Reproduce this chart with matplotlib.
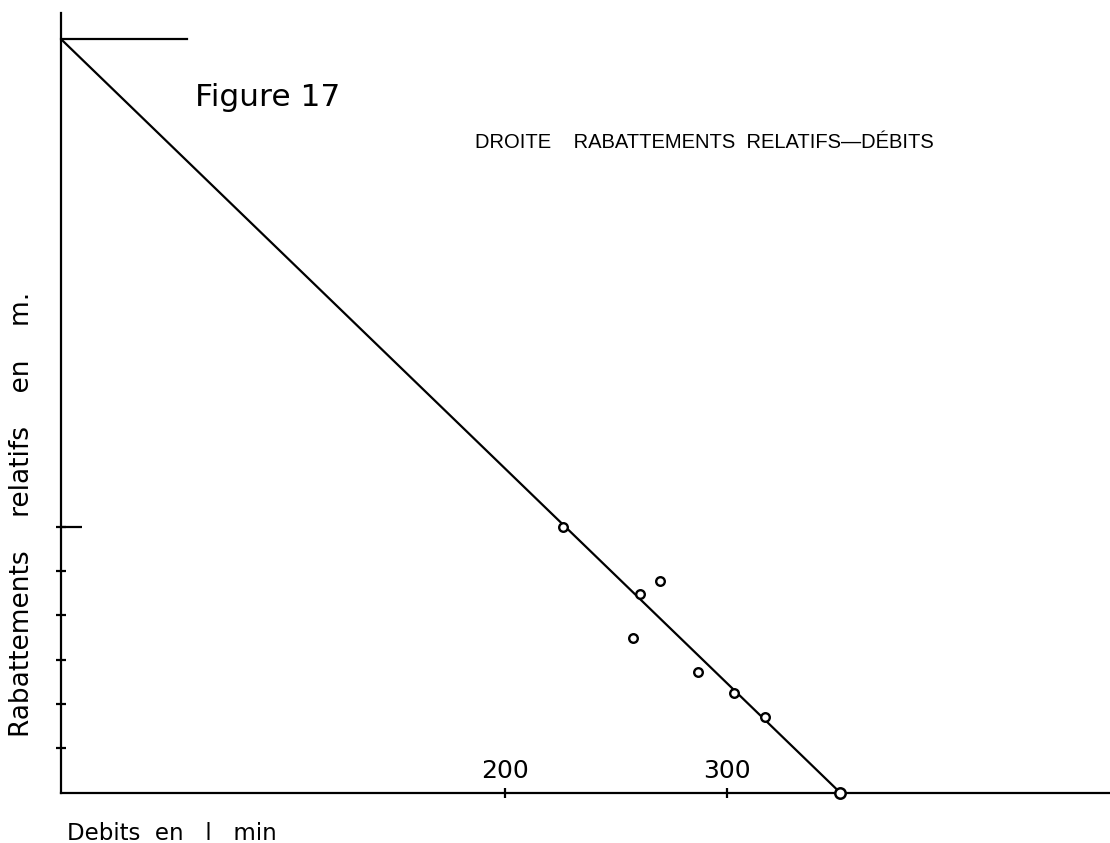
import matplotlib
matplotlib.use("Agg")
import matplotlib.pyplot as plt
import numpy as np

# droite rabattements relatifs - debits (fig. 17)
debits = [226, 270, 261, 257.5, 287, 303, 317]
rabattements = [6.0, 4.78, 4.48, 3.48, 2.73, 2.26, 1.71]
debit_max = 351        # intercept on the debit axis
rabattement_0 = 17.0   # intercept on the rabattement axis
xticks = [200, 300]

W, H = 1110, 843
fig = plt.figure(figsize=(W / 100, H / 100), dpi=100)

x0, y0 = 61, 792.7
px_x = 2.22      # pixels per l/min
px_y = 44.33     # pixels per unit
ax = fig.add_axes([x0 / W, (H - y0) / H, (W - x0) / W, (y0 - 13) / H])
ax.set_xlim(0, (W - x0) / px_x)
ax.set_ylim(0, (y0 - 13) / px_y)

for s in ["top", "right"]:
    ax.spines[s].set_visible(False)
for s in ["left", "bottom"]:
    ax.spines[s].set_linewidth(1.6)

# straight line + upper horizontal mark
ax.plot([0, debit_max], [rabattement_0, 0], color="black", lw=1.6,
        solid_capstyle="butt", zorder=2)
ax.plot([0, (187 - x0) / px_x], [rabattement_0, rabattement_0],
        color="black", lw=1.6, clip_on=False)

ax.plot(debits, rabattements, "o", ms=6.2, mfc="white", mec="black",
        mew=1.7, zorder=3)
ax.plot([debit_max], [0], "o", ms=7.5, mfc="white", mec="black",
        mew=1.8, zorder=4, clip_on=False)

# ticks
ax.set_xticks(xticks)
ax.set_xticklabels([str(t) for t in xticks], fontsize=18,
                   family="DejaVu Sans")
ax.tick_params(axis="x", direction="inout", length=7, width=1.6,
               pad=-28)
ax.set_yticks([6])
ax.set_yticklabels([])
ax.set_yticks([1, 2, 3, 4, 5, 6], minor=True)
ax.yaxis.remove_overlapping_locs = False
ax.tick_params(axis="y", which="major", direction="in", length=15,
               width=1.6)
ax.tick_params(axis="y", which="minor", direction="inout", length=7,
               width=1.6)

fig.text(195 / W, 1 - 97 / H, "Figure 17", fontsize=22.5,
         family="DejaVu Sans", va="center", ha="left")
fig.text(475 / W, 1 - 143 / H,
         "DROITE    RABATTEMENTS  RELATIFS\u2014DÉBITS",
         fontsize=14.5, family="Liberation Sans",
         va="center", ha="left")
fig.text(22 / W, 1 - 514 / H, "Rabattements    relatifs    en    m.",
         fontsize=19, family="DejaVu Sans", rotation=90,
         va="center", ha="center")
fig.text(67 / W, 1 - 833 / H, "Debits  en   l   min", fontsize=16.5,
         family="DejaVu Sans", va="center", ha="left")

fig.savefig("out.png", dpi=100)
